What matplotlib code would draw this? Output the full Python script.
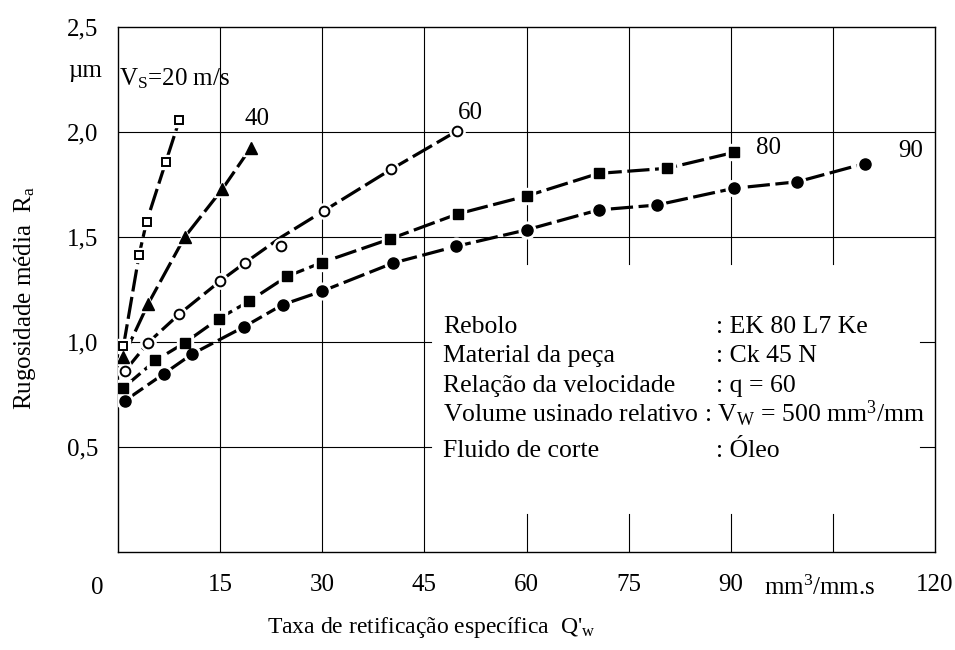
import matplotlib
matplotlib.use('Agg')
import matplotlib.pyplot as plt

plt.rcParams['font.family'] = ['Liberation Serif', 'DejaVu Serif']
plt.rcParams['mathtext.fontset'] = 'custom'
plt.rcParams['mathtext.rm'] = 'Liberation Serif'
plt.rcParams['mathtext.it'] = 'Liberation Serif:italic'
plt.rcParams['lines.scale_dashes'] = False

# ---------------- data ----------------
x20 = [0.8, 3.1, 4.2, 7.0, 9.0]
y20 = [0.98, 1.415, 1.573, 1.855, 2.056]

x40 = [0.8, 4.4, 9.8, 15.3, 19.5]
y40 = [0.93, 1.18, 1.50, 1.727, 1.925]

x60 = [1.0, 4.4, 9.0, 15.0, 18.6, 24.0, 30.2, 40.1, 49.8]
y60 = [0.861, 0.996, 1.133, 1.29, 1.376, 1.455, 1.624, 1.822, 2.005]
# drawn curve of the 60 m/s series (passes above the point at 24)
y60_curve = [0.861, 0.996, 1.133, 1.29, 1.376, 1.50, 1.624, 1.822, 2.005]

x80 = [0.8, 5.5, 9.8, 14.8, 19.2, 24.8, 29.9, 39.9, 49.9, 60.0, 70.6, 80.6, 90.5]
y80 = [0.782, 0.912, 0.996, 1.111, 1.193, 1.312, 1.378, 1.49, 1.61, 1.695, 1.803, 1.827, 1.903]

x90 = [1.0, 6.8, 10.9, 18.5, 24.2, 29.9, 40.4, 49.6, 60.0, 70.6, 79.1, 90.5, 99.8, 109.7]
y90 = [0.72, 0.85, 0.943, 1.072, 1.178, 1.241, 1.376, 1.455, 1.534, 1.629, 1.652, 1.732, 1.763, 1.85]

xticks = [15, 30, 45, 60, 75, 90, 120]
xticklabels = ['15', '30', '45', '60', '75', '90', '120']
yticks = [0.5, 1.0, 1.5, 2.0, 2.5]
yticklabels = ['0,5', '1,0', '1,5', '2,0', '2,5']

info_labels = ['Rebolo', 'Material da peça', 'Relação da velocidade', 'Fluido de corte']
info_values = [': EK 80 L7 Ke', ': Ck 45 N', ': q = 60', ': Óleo']
info_volume = r'Volume usinado relativo : V$_\mathregular{W}$ = 500 mm$^\mathregular{3}$/mm'

# ---------------- figure ----------------
W, H = 955, 650
fig = plt.figure(figsize=(W / 100, H / 100), dpi=100)
L, R, T, B = 118, 935, 27, 552
ax = fig.add_axes([L / W, 1 - B / H, (R - L) / W, (B - T) / H])
ax.set_xlim(0, 120)
ax.set_ylim(0, 2.5)
for s in ax.spines.values():
    s.set_linewidth(1.0)
    s.set_color('black')

FS = 18
gkw = dict(color='black', lw=0.8, zorder=1)
# horizontal grid
ax.plot([0, 120], [2.0, 2.0], **gkw)
ax.plot([0, 120], [1.5, 1.5], **gkw)
for yv in (1.0, 0.5):
    ax.plot([0, 46], [yv, yv], **gkw)
    ax.plot([117.8, 120], [yv, yv], **gkw)
# vertical grid
for xv in (15, 30, 45):
    ax.plot([xv, xv], [0, 2.5], **gkw)
for xv in (60, 75, 90, 105):
    ax.plot([xv, xv], [1.37, 2.5], **gkw)
    ax.plot([xv, xv], [0, 0.18], **gkw)

lkw = dict(color='black', lw=2.3, dashes=(16, 4), zorder=3, solid_capstyle='butt', dash_capstyle='butt')


def series(x, y, yline, marker, ms, filled):
    ax.plot(x, yline, **lkw)
    ax.plot(x, y, ls='none', marker=marker, ms=ms + 4, mfc='white', mec='white', zorder=4)
    if filled:
        ax.plot(x, y, ls='none', marker=marker, ms=ms, mfc='black', mec='black', zorder=5)
    else:
        ax.plot(x, y, ls='none', marker=marker, ms=ms, mfc='white', mec='black', mew=1.4, zorder=5)


series(x20, y20, y20, 's', 6, False)
series(x40, y40, y40, '^', 8, True)
series(x60, y60, y60_curve, 'o', 7, False)
series(x80, y80, y80, 's', 7, True)
series(x90, y90, y90, 'o', 8, True)

# curve labels
ax.text(0.1, 2.222, r'V$_\mathregular{S}$=20 m/s', fontsize=FS, va='baseline', ha='left')
ax.text(20.4, 2.06, '40', fontsize=FS, va='center', ha='center')
ax.text(51.8, 2.09, '60', fontsize=FS, va='center', ha='center')
ax.text(95.5, 1.925, '80', fontsize=FS, va='center', ha='center')
ax.text(116.5, 1.91, '90', fontsize=FS, va='center', ha='center')

# info block
IFS = 18.5
lab_x = 47.8
val_x = 87.8
rows_y = [1.045, 0.907, 0.764, 0.451]
for lab, val, yy in zip(info_labels, info_values, rows_y):
    ax.text(lab_x, yy, lab, fontsize=IFS, va='baseline', ha='left')
    ax.text(val_x, yy, val, fontsize=IFS, va='baseline', ha='left')
ax.text(lab_x, 0.617, info_volume, fontsize=IFS, va='baseline', ha='left')

# ticks
ax.set_xticks(xticks)
ax.set_xticklabels(xticklabels, fontsize=FS)
ax.set_yticks(yticks)
ax.set_yticklabels(yticklabels, fontsize=FS)
ax.tick_params(axis='both', length=0)
ax.tick_params(axis='x', pad=16)
ax.tick_params(axis='y', pad=14)
ax.annotate('0', xy=(0, 0), xycoords='data', xytext=(-21, -36), textcoords='offset pixels',
            fontsize=FS, ha='center', va='center', annotation_clip=False)
ax.annotate('µm', xy=(0, 2.29), xycoords='data', xytext=(-16, 0), textcoords='offset pixels',
            fontsize=FS, ha='right', va='center', annotation_clip=False)
ax.annotate(r'mm$^\mathregular{3}$/mm.s', xy=(103.0, 0), xycoords='data', xytext=(0, -36),
            textcoords='offset pixels', fontsize=FS, ha='center', va='center', annotation_clip=False)

fig.text(431 / W, 1 - 628 / H, r"Taxa de retificação específica  Q'$_\mathregular{w}$",
         fontsize=17, ha='center', va='center')
fig.text(25 / W, 1 - 298 / H, r'Rugosidade média  R$_\mathregular{a}$',
         fontsize=18, ha='center', va='center', rotation=90)

fig.savefig('out.png', dpi=100)
